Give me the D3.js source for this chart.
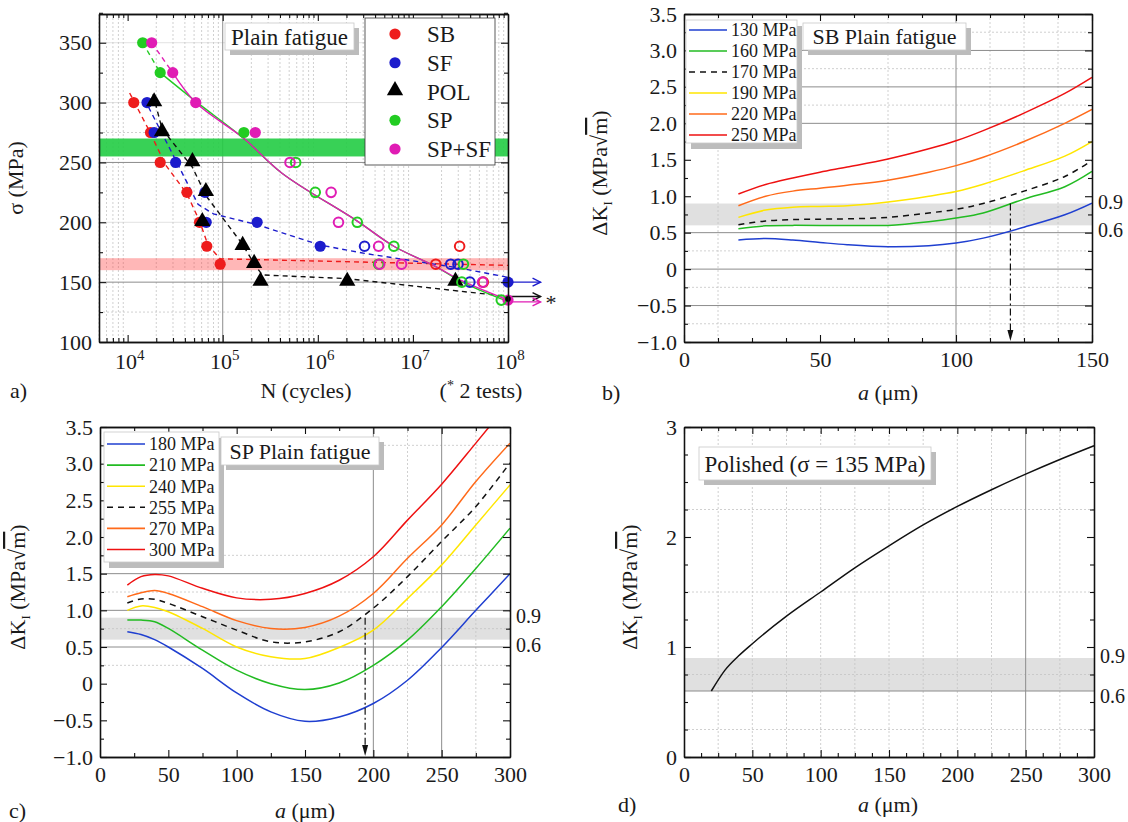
<!DOCTYPE html>
<html>
<head>
<meta charset="utf-8">
<script src="https://cdn.jsdelivr.net/npm/d3@7"></script>
<style>
  body { margin: 0; background: #fff; }
  svg, svg text { font-family: "Liberation Serif", "Tinos", "DejaVu Serif", serif; }
</style>
</head>
<body>
<svg id="fig" width="1128" height="822" font-family="Liberation Serif, DejaVu Serif, serif"></svg>
<script>
// ---------- panel a : S-N data  [cycles, stress MPa] ----------
var sbFailed   = [[1.16e4,300],[1.74e4,275],[2.2e4,250],[4.2e4,225],[5.7e4,200],[6.8e4,180],[9.4e4,165]];
var sbRunout   = [[1.74e7,165],[3.1e7,180],[5.5e7,150]];
var sfFailed   = [[1.6e4,300],[1.9e4,275],[3.2e4,250],[6.5e4,225],[6.7e4,200],[2.3e5,200],[1.06e6,180],[1e8,150]];
var sfRunout   = [[3.1e6,180],[2.5e7,165],[2.98e7,165],[3.97e7,150]];
var polFailed  = [[1.9e4,300],[2.3e4,275],[4.8e4,250],[6.65e4,225],[6.1e4,200],[1.62e5,180],[2.14e5,165],[2.5e5,150],[2.04e6,150],[2.8e7,150]];
var polRunout  = [[1e8,136]];
var spFailed   = [[1.44e4,350],[2.2e4,325],[1.67e5,275]];
var spRunout   = [[5.85e5,250],[9.4e5,225],[2.6e6,200],[6.3e6,180],[4.36e6,165],[3.4e7,165],[3.27e7,150],[8.5e7,135]];
var spsfFailed = [[1.79e4,350],[2.98e4,325],[5.2e4,300],[2.2e5,275],[1e8,135]];
var spsfRunout = [[5.1e5,250],[1.38e6,225],[1.65e6,200],[4.36e6,180],[4.47e6,165],[7.6e6,165],[5.4e7,150]];

// fitted trends
var sbFit      = [[1.05e4,308],[1.7e4,276],[2.5e4,248],[4.2e4,224],[5.7e4,201],[7e4,181],[9.4e4,169.5],[1e8,164]];
var sfFit      = [[1.5e4,303],[3.2e4,252],[5.5e4,215],[8e4,207],[2.3e5,198],[1.06e6,181],[3.1e6,174],[3e7,162],[1e8,154]];
var polFit     = [[1.85e4,307],[2.3e4,278],[4.8e4,246],[6.7e4,222],[1.6e5,182],[2.2e5,164],[2.6e5,156],[2e6,153],[1e8,138]];
var spFitTop   = [[1.44e4,350],[2.2e4,325]];
var spFit      = [[2.2e4,325],[5.2e4,301],[1.67e5,270],[4.2e5,241],[2.6e6,201],[6.3e6,180],[1.74e7,163],[3.3e7,150],[8.5e7,136],[1e8,134]];
var spsfFitTop = [[1.79e4,350],[2.98e4,325]];
var spsfFit    = [[2.98e4,325],[5.2e4,300],[1.67e5,270],[4.2e5,241],[2.6e6,201],[6.3e6,180],[1.74e7,163],[3.3e7,151],[1e8,135]];

// run-out arrows [stress] from 1e8 to arrowEnd cycles
var sfArrow = 150, polArrow = 138, spsfArrow = 133.5, arrowEnd = 2.2e8;
var spBand = [255, 270];
var sbBand = [160, 170];
var legendA = ['SB', 'SF', 'POL', 'SP', 'SP+SF'];

// ---------- panel b : SB, delta K vs a ----------
var aB    = [20, 30, 40, 50, 60, 75, 90, 100, 110, 125, 140, 150];
var kB130 = [0.40, 0.42, 0.40, 0.366, 0.334, 0.306, 0.32, 0.357, 0.425, 0.575, 0.745, 0.905];
var kB160 = [0.553, 0.594, 0.60, 0.60, 0.60, 0.60, 0.65, 0.70, 0.77, 0.96, 1.13, 1.34];
var kB170 = [0.61, 0.66, 0.68, 0.685, 0.69, 0.71, 0.77, 0.82, 0.90, 1.07, 1.27, 1.49];
var kB190 = [0.71, 0.81, 0.85, 0.86, 0.87, 0.92, 1.0, 1.065, 1.165, 1.35, 1.55, 1.75];
var kB220 = [0.87, 1.00, 1.07, 1.11, 1.15, 1.22, 1.33, 1.42, 1.535, 1.75, 2.0, 2.19];
var kB250 = [1.03, 1.16, 1.25, 1.33, 1.40, 1.51, 1.65, 1.76, 1.90, 2.14, 2.41, 2.63];
var legendB = ['130 MPa', '160 MPa', '170 MPa', '190 MPa', '220 MPa', '250 MPa'];
var dropB = 120;

// ---------- panel c : SP ----------
var aC    = [20, 30, 40, 50, 75, 100, 125, 150, 175, 200, 225, 250, 275, 300];
var kC180 = [0.708, 0.67, 0.60, 0.50, 0.207, -0.126, -0.385, -0.513, -0.454, -0.27, 0.047, 0.494, 1.0, 1.50];
var kC210 = [0.867, 0.867, 0.844, 0.753, 0.457, 0.184, 0.0, -0.08, 0.01, 0.25, 0.594, 1.05, 1.57, 2.12];
var kC240 = [1.0, 1.06, 1.04, 0.98, 0.753, 0.50, 0.366, 0.343, 0.494, 0.73, 1.16, 1.62, 2.165, 2.71];
var kC255 = [1.10, 1.155, 1.15, 1.095, 0.913, 0.73, 0.571, 0.57, 0.708, 1.03, 1.46, 1.94, 2.415, 3.01];
var kC270 = [1.186, 1.24, 1.27, 1.23, 1.05, 0.86, 0.753, 0.767, 0.92, 1.23, 1.71, 2.165, 2.757, 3.28];
var kC300 = [1.345, 1.46, 1.49, 1.47, 1.30, 1.17, 1.15, 1.23, 1.41, 1.73, 2.23, 2.72, 3.28, 3.85];
var legendC = ['180 MPa', '210 MPa', '240 MPa', '255 MPa', '270 MPa', '300 MPa'];
var dropC = 194;

// ---------- panel d : polished ----------
var aD    = [20, 30, 40, 50, 75, 100, 125, 150, 175, 200, 225, 250, 275, 300];
var kD135 = [0.6, 0.79, 0.92, 1.03, 1.28, 1.50, 1.72, 1.92, 2.11, 2.278, 2.43, 2.572, 2.705, 2.83];

var thrBand = [0.6, 0.9];

// ---------- helpers ----------
var svg = d3.select('#fig');
var FS = 22;
var SERIF = 'Liberation Serif, DejaVu Serif, serif';
var cRed = '#ee1c1c', cBlue = '#1c1ccc', cGreen = '#22cc22', cMag = '#e01cb4';
var kBlue = '#1f3fd0', kGreen = '#22bb22', kBlack = '#111', kYellow = '#ffe600', kOrange = '#ff6a1a', kRed = '#ee1111';
// per panel curve styles [colour, dash]
var stylesB = [[kBlue, null], [kGreen, null], [kBlack, '6,5'], [kYellow, null], [kOrange, null], [kRed, null]];
var stylesC = [[kBlue, null], [kGreen, null], [kYellow, null], [kBlack, '6,5'], [kOrange, null], [kRed, null]];
var clipId = 0;

function range(a, b, s) { return d3.range(a, b + s / 2, s); }
function without(vals, majors) {
  return vals.filter(function(v) { return !majors.some(function(m) { return Math.abs(m - v) < 1e-9; }); });
}

function gridLayer(g, x, y, s) {
  var L = x.range()[0], R = x.range()[1], B = y.range()[0], T = y.range()[1];
  function hl(vals, col, dash, w) {
    g.selectAll(null).data(vals).enter().append('line')
      .attr('x1', L).attr('x2', R).attr('y1', y).attr('y2', y)
      .attr('stroke', col).attr('stroke-width', w).attr('stroke-dasharray', dash);
  }
  function vl(vals, col, dash, w) {
    g.selectAll(null).data(vals).enter().append('line')
      .attr('y1', T).attr('y2', B).attr('x1', x).attr('x2', x)
      .attr('stroke', col).attr('stroke-width', w).attr('stroke-dasharray', dash);
  }
  hl(s.lightH || [], '#e2e2e2', null, 1);
  hl(s.dotH || [], '#c4c4c4', '2,2', 0.8);
  vl(s.dotV || [], '#c4c4c4', '2,2', 0.8);
  hl(s.solidH || [], '#8c8c8c', null, 1);
  vl(s.solidV || [], '#8c8c8c', null, 1);
}

function axesLayer(g, x, y, s) {
  var L = x.range()[0], R = x.range()[1], B = y.range()[0], T = y.range()[1];
  function styl(sel) {
    sel.attr('font-family', SERIF).attr('font-size', FS);
    sel.select('.domain').attr('stroke', '#111').attr('stroke-width', 1.3);
    sel.selectAll('.tick line').attr('stroke', '#111').attr('stroke-width', 1.1);
    sel.selectAll('.tick text').attr('fill', '#1a1a1a');
  }
  var sides = [
    [d3.axisBottom, x, 'translate(0,' + B + ')', s.xMajor, s.xMinor, s.xFmt],
    [d3.axisTop, x, 'translate(0,' + T + ')', s.xMajor, s.xMinor, null],
    [d3.axisLeft, y, 'translate(' + L + ',0)', s.yMajor, s.yMinor, s.yFmt],
    [d3.axisRight, y, 'translate(' + R + ',0)', s.yMajor, s.yMinor, null]
  ];
  sides.forEach(function(sd) {
    g.append('g').attr('transform', sd[2])
      .call(sd[0](sd[1]).tickValues(sd[4]).tickSize(-4).tickSizeOuter(0).tickFormat(''))
      .call(styl);
    g.append('g').attr('transform', sd[2])
      .call(sd[0](sd[1]).tickValues(sd[3]).tickSize(-7).tickSizeOuter(0)
        .tickPadding(sd[0] === d3.axisLeft ? 7 : 9).tickFormat(sd[5] || ''))
      .call(styl);
  });
}

function clipFor(g, x, y) {
  var id = 'clip' + (clipId++);
  var L = x.range()[0], R = x.range()[1], B = y.range()[0], T = y.range()[1];
  g.append('clipPath').attr('id', id).append('rect')
    .attr('x', L).attr('y', T).attr('width', R - L).attr('height', B - T);
  return 'url(#' + id + ')';
}

function txt(g) {
  return g.append('text').attr('font-family', SERIF).attr('fill', '#1a1a1a');
}

function textBox(g, x0, y0, x1, y1, label, size) {
  g.append('rect').attr('x', x0 + 5).attr('y', y0 + 5).attr('width', x1 - x0).attr('height', y1 - y0).attr('fill', '#bcbcbc');
  g.append('rect').attr('x', x0).attr('y', y0).attr('width', x1 - x0).attr('height', y1 - y0)
    .attr('fill', '#fff').attr('stroke', '#c8c8c8').attr('stroke-width', 0.8);
  txt(g).attr('x', (x0 + x1) / 2).attr('y', (y0 + y1) / 2).attr('dy', '0.35em')
    .attr('text-anchor', 'middle').attr('font-size', size).text(label);
}

function dkLabel(g, cx, cy) {
  var t = txt(g).attr('transform', 'translate(' + cx + ',' + cy + ') rotate(-90)')
    .attr('text-anchor', 'middle').attr('font-size', FS);
  t.append('tspan').text('\u0394K');
  t.append('tspan').attr('font-size', 13).attr('dy', 5).text('I');
  t.append('tspan').attr('dy', -5).text(' (MPa\u221A');
  t.append('tspan').style('text-decoration', 'overline').text('m');
  t.append('tspan').text(')');
}

function aLabel(g, cx, by, tag, tx) {
  var t = txt(g).attr('x', cx).attr('y', by).attr('text-anchor', 'middle').attr('font-size', FS);
  t.append('tspan').attr('font-style', 'italic').text('a');
  t.append('tspan').text(' (\u03BCm)');
  txt(g).attr('x', tx).attr('y', by).attr('font-size', FS).text(tag);
}

function thrLabels(g, x, y) {
  var R = x.range()[1];
  [[0.9, -2], [0.6, 5]].forEach(function(v) {
    txt(g).attr('x', R + 6).attr('y', y(v[0]) + v[1]).attr('dy', '0.35em')
      .attr('font-size', 20).text(v[0].toFixed(1));
  });
}

function band(g, x, y, lims, col, op) {
  g.append('rect').attr('x', x.range()[0]).attr('width', x.range()[1] - x.range()[0])
    .attr('y', y(lims[1])).attr('height', y(lims[0]) - y(lims[1]))
    .attr('fill', col).attr('fill-opacity', op);
}

function dropArrow(g, x, y, a, k) {
  var px = x(a), yb = y.range()[0];
  g.append('line').attr('x1', px).attr('x2', px).attr('y1', y(k)).attr('y2', yb - 6)
    .attr('stroke', '#111').attr('stroke-width', 1.2).attr('stroke-dasharray', '7,3,2,3');
  g.append('path').attr('d', 'M' + (px - 3) + ',' + (yb - 12) + 'L' + px + ',' + (yb - 1) + 'L' + (px + 3) + ',' + (yb - 12) + 'Z')
    .attr('fill', '#111');
}

function lineLegend(g, x0, y0, x1, y1, labels, styles, rowY) {
  g.append('rect').attr('x', x0 + 5).attr('y', y0 + 6).attr('width', x1 - x0).attr('height', y1 - y0).attr('fill', '#bcbcbc');
  g.append('rect').attr('x', x0).attr('y', y0).attr('width', x1 - x0).attr('height', y1 - y0)
    .attr('fill', '#fff').attr('stroke', '#c8c8c8').attr('stroke-width', 0.8);
  labels.forEach(function(lb, i) {
    var yy = rowY(i);
    g.append('line').attr('x1', x0 + 3).attr('x2', x0 + 41).attr('y1', yy).attr('y2', yy)
      .attr('stroke', styles[i][0]).attr('stroke-width', 1.6).attr('stroke-dasharray', styles[i][1]);
    txt(g).attr('x', x0 + 45).attr('y', yy).attr('dy', '0.35em').attr('font-size', 18).text(lb);
  });
}

function curves(g, x, y, aVals, series, styles, clip) {
  var line = d3.line().x(function(d) { return x(d[0]); }).y(function(d) { return y(d[1]); })
    .curve(d3.curveCatmullRom.alpha(0.5));
  var cg = g.append('g').attr('clip-path', clip);
  series.forEach(function(ks, i) {
    cg.append('path').datum(aVals.map(function(a, j) { return [a, ks[j]]; }))
      .attr('d', line).attr('fill', 'none').attr('stroke', styles[i][0])
      .attr('stroke-width', 1.5).attr('stroke-dasharray', styles[i][1]);
  });
}

var fmtK = function(d) { return d === 0 ? '0' : d3.format('.1f')(d); };

// ================= panel a =================
(function() {
  var g = svg.append('g');
  var x = d3.scaleLog().domain([5e3, 1e8]).range([99, 508]);
  var y = d3.scaleLinear().domain([100, 374]).range([342, 14]);
  var decades = [1e4, 1e5, 1e6, 1e7, 1e8];
  var minorN = [];
  [1e3, 1e4, 1e5, 1e6, 1e7].forEach(function(p) {
    d3.range(2, 10).forEach(function(k) { var v = k * p; if (v >= 5e3 && v <= 1e8) minorN.push(v); });
  });
  var yMaj = range(100, 350, 50);
  var yMin = without(range(100, 374, 25), yMaj);

  gridLayer(g, x, y, { lightH: [350, 300, 200], dotH: [125, 275], dotV: minorN, solidH: [250, 150], solidV: [1e5] });
  band(g, x, y, spBand, '#22cc44', 0.9);
  band(g, x, y, sbBand, '#ff3030', 0.35);

  var lin = d3.line().x(function(d) { return x(d[0]); }).y(function(d) { return y(d[1]); });
  var smooth = d3.line().x(function(d) { return x(d[0]); }).y(function(d) { return y(d[1]); }).curve(d3.curveCatmullRom.alpha(0.5));
  [[sbFit, cRed, lin, '5,4'], [sfFit, cBlue, lin, '5,4'], [polFit, '#111', lin, '5,4'],
   [spFitTop, cGreen, lin, '5,4'], [spsfFitTop, cMag, lin, '5,4'],
   [spFit, cGreen, smooth, null], [spsfFit, cMag, smooth, null]].forEach(function(f) {
    g.append('path').datum(f[0]).attr('d', f[2]).attr('fill', 'none').attr('stroke', f[1])
      .attr('stroke-width', 1.4).attr('stroke-dasharray', f[3]);
  });

  // run-out arrows
  [[sfArrow, cBlue], [polArrow, '#111'], [spsfArrow, cMag]].forEach(function(r) {
    var x0 = x(1e8), x1 = x(arrowEnd), yy = y(r[0]);
    g.append('line').attr('x1', x0).attr('x2', x1).attr('y1', yy).attr('y2', yy).attr('stroke', r[1]).attr('stroke-width', 1.4);
    g.append('path').attr('d', 'M' + (x1 - 8) + ',' + (yy - 4) + 'L' + x1 + ',' + yy + 'L' + (x1 - 8) + ',' + (yy + 4))
      .attr('fill', 'none').attr('stroke', r[1]).attr('stroke-width', 1.4);
  });
  txt(g).attr('x', x(arrowEnd) + 5).attr('y', y(polArrow) + 13).attr('font-size', FS).text('*');

  function dots(data, col, open) {
    g.selectAll(null).data(data).enter().append('circle')
      .attr('cx', function(d) { return x(d[0]); }).attr('cy', function(d) { return y(d[1]); })
      .attr('r', open ? 4.8 : 5.6)
      .attr('fill', open ? 'none' : col).attr('stroke', col).attr('stroke-width', open ? 2 : 0);
  }
  var tri = d3.symbol().type(d3.symbolTriangle).size(115);
  dots(sbFailed, cRed); dots(sfFailed, cBlue);
  g.selectAll(null).data(polFailed).enter().append('path').attr('d', tri)
    .attr('transform', function(d) { return 'translate(' + x(d[0]) + ',' + (y(d[1]) - 1) + ')'; }).attr('fill', '#000');
  dots(spFailed, cGreen); dots(spsfFailed, cMag);
  dots(sbRunout, cRed, true); dots(sfRunout, cBlue, true); dots(spRunout, cGreen, true); dots(spsfRunout, cMag, true);
  g.selectAll(null).data(polRunout).enter().append('circle')
    .attr('cx', function(d) { return x(d[0]); }).attr('cy', function(d) { return y(d[1]); }).attr('r', 2.8).attr('fill', '#000');

  axesLayer(g, x, y, { xMajor: decades, xMinor: minorN, yMajor: yMaj, yMinor: yMin, xFmt: null, yFmt: d3.format('d') });
  decades.forEach(function(v) {
    var t = txt(g).attr('x', x(v) + 2).attr('y', 369).attr('text-anchor', 'middle').attr('font-size', FS);
    t.append('tspan').text('10');
    t.append('tspan').attr('dy', -9).attr('font-size', 15).text(Math.round(Math.log10(v)));
  });

  // legend
  g.append('rect').attr('x', 365).attr('y', 18).attr('width', 130).attr('height', 147)
    .attr('fill', '#fff').attr('stroke', '#333').attr('stroke-width', 0.8);
  var legCols = [cRed, cBlue, '#000', cGreen, cMag];
  legendA.forEach(function(lb, i) {
    var yy = 34 + i * 28.75;
    if (i === 2) g.append('path').attr('d', tri).attr('transform', 'translate(395,' + (yy - 1) + ')').attr('fill', '#000');
    else g.append('circle').attr('cx', 395).attr('cy', yy).attr('r', 5.6).attr('fill', legCols[i]);
    txt(g).attr('x', 427).attr('y', yy).attr('dy', '0.35em').attr('font-size', 23).text(lb);
  });
  textBox(g, 225, 23, 354, 50, 'Plain fatigue', 23);

  txt(g).attr('transform', 'translate(23,178) rotate(-90)').attr('text-anchor', 'middle')
    .attr('font-size', FS).text('\u03C3 (MPa)');
  txt(g).attr('x', 306).attr('y', 398).attr('text-anchor', 'middle').attr('font-size', FS).text('N (cycles)');
  txt(g).attr('x', 10).attr('y', 398).attr('font-size', FS).text('a)');
  var nt = txt(g).attr('x', 481).attr('y', 398).attr('text-anchor', 'middle').attr('font-size', FS);
  nt.append('tspan').text('(');
  nt.append('tspan').attr('dy', -8).attr('font-size', 14).text('*');
  nt.append('tspan').attr('dy', 8).text(' 2 tests)');
})();

// ================= panel b =================
(function() {
  var g = svg.append('g');
  var x = d3.scaleLinear().domain([0, 150]).range([684, 1092]);
  var y = d3.scaleLinear().domain([-1, 3.5]).range([342, 14]);
  var yMaj = range(-1, 3.5, 0.5);
  var xMaj = range(0, 150, 50);
  band(g, x, y, thrBand, '#000', 0.12);
  gridLayer(g, x, y, { solidH: [3.0, 2.5, 2.0, 0.5, 0, -0.5], solidV: [100],
    dotH: [3.25, 2.75, 2.25, 0.25, -0.25, -0.75], dotV: [12.5, 75, 112.5, 125, 137.5] });
  curves(g, x, y, aB, [kB130, kB160, kB170, kB190, kB220, kB250], stylesB, clipFor(g, x, y));
  dropArrow(g, x, y, dropB, thrBand[1]);
  axesLayer(g, x, y, { xMajor: xMaj, xMinor: without(range(0, 150, 12.5), xMaj), yMajor: yMaj,
    yMinor: without(range(-1, 3.5, 0.25), yMaj), xFmt: d3.format('d'), yFmt: fmtK });
  lineLegend(g, 686, 20, 797, 143, legendB, stylesB, function(i) { return 30 + i * 21; });
  textBox(g, 803, 23, 966, 50, 'SB Plain fatigue', 22);
  thrLabels(g, x, y);
  dkLabel(g, 607, 173);
  aLabel(g, 888, 400, 'b)', 602);
})();

// ================= panel c =================
(function() {
  var g = svg.append('g');
  var x = d3.scaleLinear().domain([0, 300]).range([100, 510]);
  var y = d3.scaleLinear().domain([-1, 3.5]).range([757, 427]);
  var yMaj = range(-1, 3.5, 0.5);
  var xMaj = range(0, 300, 50);
  band(g, x, y, thrBand, '#000', 0.12);
  gridLayer(g, x, y, { solidH: [1.5, 1.0, 0.5], solidV: [200, 250],
    dotH: [3.25, 1.75, 1.25, 0.75, 0.25], dotV: [225, 275] });
  curves(g, x, y, aC, [kC180, kC210, kC240, kC255, kC270, kC300], stylesC, clipFor(g, x, y));
  dropArrow(g, x, y, dropC, thrBand[1]);
  axesLayer(g, x, y, { xMajor: xMaj, xMinor: without(range(0, 300, 25), xMaj), yMajor: yMaj,
    yMinor: without(range(-1, 3.5, 0.25), yMaj), xFmt: d3.format('d'), yFmt: fmtK });
  lineLegend(g, 104, 432, 219, 562, legendC, stylesC, function(i) { return 444 + i * 21.1; });
  textBox(g, 221, 437, 379, 465, 'SP Plain fatigue', 22);
  thrLabels(g, x, y);
  dkLabel(g, 25, 587);
  aLabel(g, 305, 818, 'c)', 9);
})();

// ================= panel d =================
(function() {
  var g = svg.append('g');
  var x = d3.scaleLinear().domain([0, 300]).range([684, 1094]);
  var y = d3.scaleLinear().domain([0, 3]).range([757, 427]);
  var yMaj = range(0, 3, 1);
  var xMaj = range(0, 300, 50);
  band(g, x, y, thrBand, '#000', 0.12);
  gridLayer(g, x, y, { solidH: [0.6], solidV: [250], dotH: [0.25, 0.75, 1.5, 2.25],
    dotV: [25, 50, 75, 100, 125, 150, 175, 200, 225, 275] });
  var line = d3.line().x(function(d) { return x(d[0]); }).y(function(d) { return y(d[1]); }).curve(d3.curveMonotoneX);
  g.append('path').datum(aD.map(function(a, i) { return [a, kD135[i]]; })).attr('d', line)
    .attr('fill', 'none').attr('stroke', '#111').attr('stroke-width', 1.5);
  axesLayer(g, x, y, { xMajor: xMaj, xMinor: without(range(0, 300, 12.5), xMaj), yMajor: yMaj,
    yMinor: without(range(0, 3, 0.25), yMaj), xFmt: d3.format('d'), yFmt: d3.format('d') });
  textBox(g, 699, 447, 931, 480, 'Polished (\u03C3 = 135 MPa)', 23);
  thrLabels(g, x, y);
  dkLabel(g, 637, 587);
  aLabel(g, 888, 812, 'd)', 618);
})();
</script>
</body>
</html>
